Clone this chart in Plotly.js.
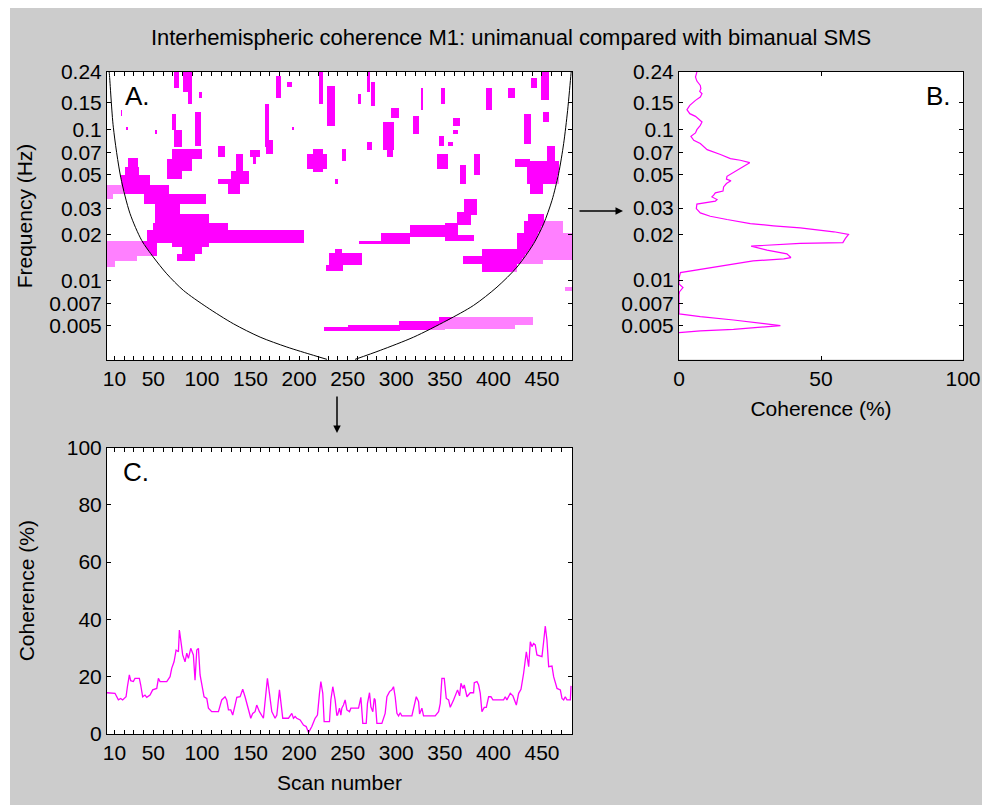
<!DOCTYPE html>
<html><head><meta charset="utf-8">
<script src="https://cdn.plot.ly/plotly-3.0.1.min.js"></script>
<style>
html,body{margin:0;padding:0;background:#ffffff;}
#chart{position:absolute;left:10px;top:8px;width:972px;height:797px;}
</style></head><body><div id="chart"></div>
<script>
// ---------- tick data ----------
const scanTicks = [10, 50, 100, 150, 200, 250, 300, 350, 400, 450];
const freqTicks = [0.005, 0.007, 0.01, 0.02, 0.03, 0.05, 0.07, 0.1, 0.15, 0.24];
const freqTickLabels = ['0.005', '0.007', '0.01', '0.02', '0.03', '0.05', '0.07', '0.1', '0.15', '0.24'];
const cohTicksC = [0, 20, 40, 60, 80, 100];
const cohTicksB = [0, 50, 100];

// ---------- cone of influence (panel A) ----------
const coiLeftScan = [3.9, 4.7, 8.8, 16.4, 26, 38, 50, 63.8, 80.9, 105, 132.4, 159.9, 187.4, 214.8, 228.6];
const coiLeftFreq = [0.26, 0.234, 0.1035, 0.0483, 0.0277, 0.0184, 0.01426, 0.01106, 0.00859, 0.00665, 0.00516, 0.00421, 0.00362, 0.00319, 0.0030];
const coiRightScan = [257.7, 283.5, 317.9, 352.2, 379.6, 403.7, 424.3, 441.4, 451.7, 460.3, 467.1, 472.3, 476.4, 479.9, 480.6];
const coiRightFreq = [0.0030, 0.00344, 0.00421, 0.00543, 0.00683, 0.00903, 0.01225, 0.0175, 0.0237, 0.0339, 0.0509, 0.0804, 0.1337, 0.234, 0.26];

// ---------- significant coherence regions (panel A) ----------
const sigScanStart = [24.3, 20.8, 16.4, 1, 1, 39.7, 51.7, 77.5, 51.7, 50.0, 43.2, 1, 1, 1, 68.9, 79.2, 74.1,
  71.3, 80.9, 85.0, 97.1, 68.9, 92.9, 72.3, 68.9, 63.8, 63.8, 117.0, 134.1, 130.7, 117.0, 127.3, 149.6, 152.3, 165.0, 166.8, 177.1, 187.3, 208.6, 214.8, 220.0, 228.9,
  15.7, 21.9, 51.7, 192.8,
  269.1, 274.9, 261.2, 295.5, 286.9, 290.4, 269.8, 245.0, 317.1, 346.0, 325.4, 393.4, 415.7, 358.3, 359.0, 345.3, 353.9, 342.5, 365.2, 380.3,
  439.7, 450.0, 451.7, 431.1, 422.5, 434.5, 438.0, 455.1,
  262.9, 285.2, 314.4, 350.4, 355.6, 362.5, 371.0,
  230.3, 237.1, 227.9, 369.3, 388.2, 424.2, 431.1, 436.3, 422.5, 473.3,
  226.9, 250.9, 302.4, 345.3, 422.5, 237.1];
const sigScanEnd = [34.6, 36.3, 46.6, 65.5, 8.8, 77.5, 77.5, 104.3, 108.4, 127.3, 205.2, 53.5, 32.9, 10.5, 108.4, 99.8, 92.9,
  76.5, 89.5, 89.5, 99.8, 73.4, 98.1, 79.2, 99.8, 89.5, 79.2, 124.9, 142.7, 147.9, 147.9, 139.3, 159.9, 156.4, 169.5, 173.6, 180.5, 192.5, 228.5, 224.4, 224.4, 237.0,
  17.4, 23.3, 53.5, 194.9,
  273.2, 278.3, 263.6, 302.4, 298.9, 297.2, 275.9, 248.5, 323.0, 350.4, 328.8, 398.5, 422.5, 365.2, 364.2, 348.7, 358.3, 353.9, 372.1, 387.2,
  444.8, 456.9, 456.9, 439.7, 438.0, 467.2, 451.7, 462.7,
  286.9, 314.4, 352.2, 364.2, 381.3, 377.9, 383.1,
  264.6, 244.0, 245.7, 393.4, 424.2, 481, 472.3, 453.4, 451.7, 481,
  252.6, 304.1, 350.4, 422.5, 440.4, 239.6];
const sigFreqLow = [0.0563, 0.0483, 0.0432, 0.0375, 0.0347, 0.0322, 0.0269, 0.0325, 0.0237, 0.0214, 0.0175, 0.0146, 0.0136, 0.0123, 0.0166, 0.0150, 0.0136,
  0.1859, 0.1767, 0.1479, 0.1596, 0.0985, 0.0783, 0.0764, 0.0639, 0.0535, 0.0471, 0.0656, 0.0535, 0.0471, 0.0437, 0.0375, 0.0656, 0.0592, 0.0764, 0.0690, 0.1596, 0.1907, 0.0549, 0.0522, 0.1479, 0.1063,
  0.1238, 0.0985, 0.0936, 0.0985,
  0.1767, 0.1442, 0.1479, 0.1177, 0.0726, 0.0656, 0.0726, 0.0623, 0.0936, 0.1479, 0.1336, 0.1336, 0.1596, 0.1063, 0.0936, 0.0783, 0.0783, 0.0549, 0.0437, 0.0496,
  0.1859, 0.1556, 0.1118, 0.0804, 0.0563, 0.0437, 0.0375, 0.0623,
  0.0173, 0.0173, 0.0194, 0.0184, 0.0184, 0.0231, 0.0269,
  0.0126, 0.0150, 0.0116, 0.0128, 0.0115, 0.0137, 0.0209, 0.0250, 0.0128, 0.00859,
  0.00462, 0.00462, 0.00471, 0.00478, 0.00511, 0.0437];
const sigFreqHigh = [0.0649, 0.0563, 0.0496, 0.0432, 0.0375, 0.0375, 0.0322, 0.0369, 0.0277, 0.0243, 0.0217, 0.0184, 0.0146, 0.0136, 0.0184, 0.0166, 0.0150,
  0.25, 0.25, 0.1767, 0.1767, 0.1270, 0.1303, 0.0985, 0.0745, 0.0639, 0.0535, 0.0783, 0.0690, 0.0535, 0.0471, 0.0437, 0.0726, 0.0656, 0.1479, 0.0846, 0.2278, 0.2058, 0.0690, 0.0745, 0.25, 0.1956,
  0.1336, 0.1036, 0.0985, 0.1036,
  0.25, 0.2058, 0.1722, 0.1371, 0.1118, 0.0726, 0.0825, 0.0745, 0.1238, 0.1859, 0.1859, 0.1859, 0.1859, 0.1177, 0.0995, 0.0913, 0.0825, 0.0690, 0.0578, 0.0690,
  0.2166, 0.25, 0.1303, 0.1270, 0.0639, 0.0623, 0.0437, 0.0783,
  0.0184, 0.0204, 0.0231, 0.0243, 0.0199, 0.0284, 0.0347,
  0.0152, 0.0162, 0.0126, 0.0146, 0.0162, 0.0209, 0.0250, 0.0274, 0.0137, 0.00912,
  0.00491, 0.00509, 0.00538, 0.00572, 0.00572, 0.0471];

// ---------- panel B: coherence by frequency ----------
const bFreq = [0.24, 0.2222, 0.2089, 0.1956, 0.1859, 0.1785, 0.1722, 0.1637, 0.1556, 0.1442, 0.1350, 0.1270, 0.1219, 0.1159, 0.1118, 0.1063, 0.0995, 0.0946, 0.0899, 0.0846, 0.0804, 0.0733, 0.0715, 0.0680, 0.0639, 0.0623, 0.0601, 0.0569, 0.0522, 0.0488, 0.0467, 0.0455, 0.0437, 0.0415, 0.0389, 0.0379, 0.0366, 0.0356, 0.0342, 0.0334, 0.0319, 0.0298, 0.0279, 0.0265, 0.0252, 0.0237, 0.0229, 0.0222, 0.0209, 0.0201, 0.0189, 0.0177, 0.0175, 0.0168, 0.0158, 0.0149, 0.0141, 0.0138, 0.0134, 0.0128, 0.0120, 0.0112, 0.01026, 0.00941, 0.00890, 0.00837, 0.00796, 0.00666, 0.00596, 0.00572, 0.00543, 0.00498, 0.00471, 0.00460, 0.00448];
const bCoherence = [6.3, 5.8, 6.3, 7.5, 7.7, 7.3, 8.1, 7.5, 5.8, 3.8, 2.8, 3.8, 5.8, 7.3, 8.1, 7.5, 6.3, 5.8, 4.2, 5.2, 7.5, 9.9, 11.6, 14.6, 18.1, 21.6, 24.9, 22.8, 19.2, 16.9, 16.7, 18.3, 16.7, 15.7, 15.5, 12.8, 12.2, 11.6, 13.4, 12.8, 6.3, 6.1, 7.5, 11.0, 16.9, 25.1, 33.3, 42.7, 54.5, 59.7, 58.6, 57.7, 42.7, 25.4, 31.0, 38.0, 39.4, 36.9, 26.1, 19.2, 11.0, 0.5, 0, 0, 1.4, 0.2, 0, 0, 0, 7.5, 19.2, 35.7, 19.2, 7.5, 0];

// ---------- panel C: coherence by scan ----------
const cScan = [2.3, 5.4, 10.5, 14.0, 16.4, 18.4, 21.9, 23.3, 25.3, 26.7, 29.4, 31.1, 35.6, 37.0, 39.0, 41.4, 43.2, 46.6, 49.3, 53.5, 55.2, 56.9, 63.8, 67.2, 68.9, 71.3, 73.4, 75.8, 76.8, 78.2, 80.2, 82.6, 84.4, 86.1, 88.5, 91.2, 92.9, 94.7, 96.4, 98.1, 99.8, 102.2, 105.0, 106.7, 110.1, 117.0, 120.4, 123.8, 125.5, 127.3, 129.7, 131.7, 134.1, 135.9, 139.3, 142.0, 144.4, 147.9, 150.3, 152.3, 154.7, 156.4, 159.2, 163.3, 166.1, 167.4, 169.5, 171.9, 175.3, 177.1, 179.8, 181.2, 183.2, 189.1, 192.5, 194.2, 195.9, 197.6, 201.1, 204.5, 207.3, 209.7, 213.1, 216.5, 218.9, 221.0, 222.4, 224.4, 225.8, 231.3, 232.7, 234.7, 237.1, 238.8,
  239.6, 241.6, 243.0, 244.0, 245.7, 247.4, 249.2, 251.9, 253.3, 261.2, 263.6, 265.6, 269.1, 270.4, 272.5, 273.9, 275.9, 277.3, 278.3, 280.1, 285.2, 288.6, 290.4, 293.1, 295.5, 297.2, 298.9, 300.7, 302.4, 304.1, 305.8, 316.1, 317.8, 320.6, 323.0, 324.0, 326.4, 328.1, 340.1, 343.6, 345.3, 347.0, 349.4, 351.5, 353.9, 355.6, 359.0, 361.8, 363.1, 365.2, 366.6, 368.6, 370.0, 372.8, 376.2, 379.6, 380.3, 383.1, 384.8, 386.5, 388.2, 390.6, 392.7, 395.1, 397.5, 399.5, 410.5, 412.2, 413.9, 417.4, 420.1, 423.6, 426.0, 428.4, 431.1, 433.9, 436.3, 438.0, 439.7, 441.4, 443.1, 444.8, 450.0, 451.7, 453.4, 455.1, 456.9, 460.3, 462.0, 465.5, 468.9, 470.6, 472.3, 474.0, 475.7, 479.2, 479.9];
const cCoherence = [14.4, 14.4, 14.2, 11.9, 12.4, 11.9, 13.0, 16.5, 20.6, 18.6, 18.3, 19.4, 19.4, 17.1, 13.0, 13.6, 12.8, 13.6, 15.4, 15.9, 19.4, 18.3, 18.3, 20.0, 22.9, 25.2, 29.3, 28.7, 36.3, 32.8, 27.6, 25.2, 28.2, 26.4, 29.9, 27.6, 18.8, 29.3, 29.9, 20.6, 17.7, 13.0, 12.4, 9.0, 7.8, 7.8, 11.9, 13.0, 11.9, 8.4, 8.4, 6.6, 10.1, 12.8, 13.0, 15.6, 13.0, 9.0, 5.5, 7.2, 7.8, 10.1, 7.8, 5.5, 14.2, 19.4, 14.2, 7.8, 5.5, 6.6, 15.4, 11.9, 5.5, 5.5, 7.2, 5.5, 6.1, 5.5, 4.9, 3.1, 2.6, 0.5, 2.6, 5.5, 6.6, 14.2, 18.3, 14.2, 4.3, 4.3, 11.9, 16.5, 11.9, 6.6,
  6.6, 9.0, 6.6, 9.0, 10.1, 11.9, 8.4, 7.8, 9.0, 9.0, 12.8, 3.7, 3.7, 10.7, 14.4, 9.5, 7.8, 12.4, 11.9, 3.7, 3.7, 7.2, 13.0, 14.8, 15.4, 16.5, 13.0, 7.2, 6.3, 7.4, 6.3, 6.3, 9.0, 13.0, 11.3, 7.0, 9.0, 6.3, 6.3, 7.8, 10.7, 19.4, 19.4, 12.4, 11.9, 9.3, 11.9, 14.2, 15.4, 13.3, 17.7, 15.9, 17.1, 13.0, 14.4, 14.4, 17.9, 18.3, 17.1, 14.2, 7.8, 9.3, 9.3, 13.0, 13.0, 11.9, 11.9, 13.0, 11.9, 14.2, 13.3, 10.1, 14.2, 15.6, 21.2, 28.7, 23.5, 32.2, 30.5, 31.6, 31.1, 27.6, 27.0, 32.2, 37.7, 32.8, 23.5, 23.7, 20.0, 15.9, 15.4, 12.4, 11.9, 13.0, 11.9, 11.9, 16.8];

// ---------- layout helpers (figure pixels -> paper fractions) ----------
const W = 972, H = 797, OX = 10, OY = 8;
const fx = p => (p - OX) / W;
const fy = p => 1 - (p - OY) / H;
const FONT = 'Liberation Sans, Arial, Helvetica, sans-serif';
const MAG = '#ff00ff', PINK = '#ff80ff';

// ---------- build the significance map ----------
const lg = Math.log10;
function interpLog(xs, fs, s) {
  for (let i = 0; i < xs.length - 1; i++) {
    if (s >= xs[i] && s <= xs[i + 1]) {
      const t = (s - xs[i]) / (xs[i + 1] - xs[i]);
      return Math.pow(10, lg(fs[i]) + t * (lg(fs[i + 1]) - lg(fs[i])));
    }
  }
  return null;
}
function coiFreq(s) {
  if (s <= coiLeftScan[0] || s >= coiRightScan[coiRightScan.length - 1]) return Infinity;
  if (s <= coiLeftScan[coiLeftScan.length - 1]) return interpLog(coiLeftScan, coiLeftFreq, s);
  if (s >= coiRightScan[0]) return interpLog(coiRightScan, coiRightFreq, s);
  return 0;
}
const yLo = lg(0.00297), yHi = lg(0.24);
const gx = [], gy = [];
for (let s = 2; s <= 481; s += 1.5) gx.push(s);
for (let l = yLo - 0.01; l <= yHi + 0.01; l += 0.006) gy.push(l);
const z = gy.map(l => {
  const f = Math.pow(10, l);
  return gx.map(s => {
    let sig = false;
    for (let k = 0; k < sigScanStart.length; k++) {
      if (s >= sigScanStart[k] && s <= sigScanEnd[k] && f >= sigFreqLow[k] && f <= sigFreqHigh[k]) { sig = true; break; }
    }
    if (!sig) return 0;
    return f >= coiFreq(s) ? 2 : 1;
  });
});

const traces = [
  {type: 'heatmap', x: gx, y: gy, z: z, xaxis: 'x', yaxis: 'y', zmin: 0, zmax: 2, showscale: false, hoverinfo: 'skip',
   colorscale: [[0, '#ffffff'], [0.25, '#ffffff'], [0.25, PINK], [0.75, PINK], [0.75, MAG], [1, MAG]]},
  {type: 'scatter', mode: 'lines', x: coiLeftScan, y: coiLeftFreq.map(lg), xaxis: 'x', yaxis: 'y',
   line: {color: '#000000', width: 1, shape: 'spline', smoothing: 0.8}, showlegend: false, hoverinfo: 'skip'},
  {type: 'scatter', mode: 'lines', x: coiRightScan, y: coiRightFreq.map(lg), xaxis: 'x', yaxis: 'y',
   line: {color: '#000000', width: 1, shape: 'spline', smoothing: 0.8}, showlegend: false, hoverinfo: 'skip'},
  {type: 'scatter', mode: 'lines', x: bCoherence, y: bFreq, xaxis: 'x2', yaxis: 'y2',
   line: {color: MAG, width: 1.2}, showlegend: false},
  {type: 'scatter', mode: 'lines', x: cScan, y: cCoherence, xaxis: 'x3', yaxis: 'y3',
   line: {color: MAG, width: 1.3}, showlegend: false}
];

const tickFont = {family: FONT, size: 21, color: '#000000'};
const base = {showline: true, linecolor: '#000000', linewidth: 1, mirror: 'ticks', ticks: 'inside', ticklen: 4,
  tickcolor: '#000000', tickwidth: 1, showgrid: false, zeroline: false, tickfont: tickFont, fixedrange: true};
const scanAxis = (extra) => Object.assign({}, base, {range: [2.3, 480.9], tickmode: 'array', tickvals: scanTicks,
  ticktext: scanTicks.map(String), minor: {dtick: 10, tick0: 0, ticks: 'inside', ticklen: 4, tickcolor: '#000000', showgrid: false}}, extra);

const layout = {
  width: W, height: H, margin: {l: 0, r: 0, t: 0, b: 0},
  paper_bgcolor: '#cccccc', plot_bgcolor: '#ffffff', showlegend: false,
  font: {family: FONT, size: 21, color: '#000000'},
  title: {text: 'Interhemispheric coherence M1: unimanual compared with bimanual SMS', font: {family: FONT, size: 22, color: '#000000'},
    xref: 'paper', yref: 'paper', x: fx(511), y: fy(37), xanchor: 'center', yanchor: 'middle'},
  xaxis: scanAxis({domain: [fx(107), fx(572)], anchor: 'y'}),
  yaxis: Object.assign({}, base, {domain: [fy(360), fy(72)], anchor: 'x', range: [yLo, yHi], tickmode: 'array',
    tickvals: freqTicks.map(lg), ticktext: freqTickLabels,
    title: {text: 'Frequency (Hz)', font: {family: FONT, size: 21}, standoff: 10}}),
  xaxis2: Object.assign({}, base, {domain: [fx(679), fx(963)], anchor: 'y2', range: [0, 100], tickmode: 'array', tickvals: cohTicksB,
    title: {text: 'Coherence (%)', font: {family: FONT, size: 21}, standoff: 12}}),
  yaxis2: Object.assign({}, base, {domain: [fy(359.5), fy(72)], anchor: 'x2', type: 'log', range: [yLo, yHi], tickmode: 'array',
    tickvals: freqTicks, ticktext: freqTickLabels}),
  xaxis3: scanAxis({domain: [fx(107), fx(572)], anchor: 'y3',
    title: {text: 'Scan number', font: {family: FONT, size: 21}, standoff: 12}}),
  yaxis3: Object.assign({}, base, {domain: [fy(734), fy(447.5)], anchor: 'x3', range: [0, 100], tickmode: 'array', tickvals: cohTicksC,
    title: {text: 'Coherence (%)', font: {family: FONT, size: 21}, standoff: 26}}),
  annotations: [
    {text: 'A.', xref: 'paper', yref: 'paper', x: fx(123), y: fy(96), xanchor: 'left', yanchor: 'middle', showarrow: false, font: {family: FONT, size: 26}},
    {text: 'B.', xref: 'paper', yref: 'paper', x: fx(953), y: fy(96), xanchor: 'right', yanchor: 'middle', showarrow: false, font: {family: FONT, size: 26}},
    {text: 'C.', xref: 'paper', yref: 'paper', x: fx(121), y: fy(472), xanchor: 'left', yanchor: 'middle', showarrow: false, font: {family: FONT, size: 26}},
    {text: '', xref: 'paper', yref: 'paper', x: fx(623), y: fy(211), ax: -45, ay: 0, showarrow: true, arrowhead: 2, arrowsize: 1, arrowwidth: 1.5, arrowcolor: '#000000', standoff: 0, startstandoff: 0},
    {text: '', xref: 'paper', yref: 'paper', x: fx(337), y: fy(433), ax: 0, ay: -38, showarrow: true, arrowhead: 2, arrowsize: 1, arrowwidth: 1.5, arrowcolor: '#000000', standoff: 0, startstandoff: 0}
  ]
};

Plotly.newPlot('chart', traces, layout, {displayModeBar: false, staticPlot: true});
</script></body></html>
